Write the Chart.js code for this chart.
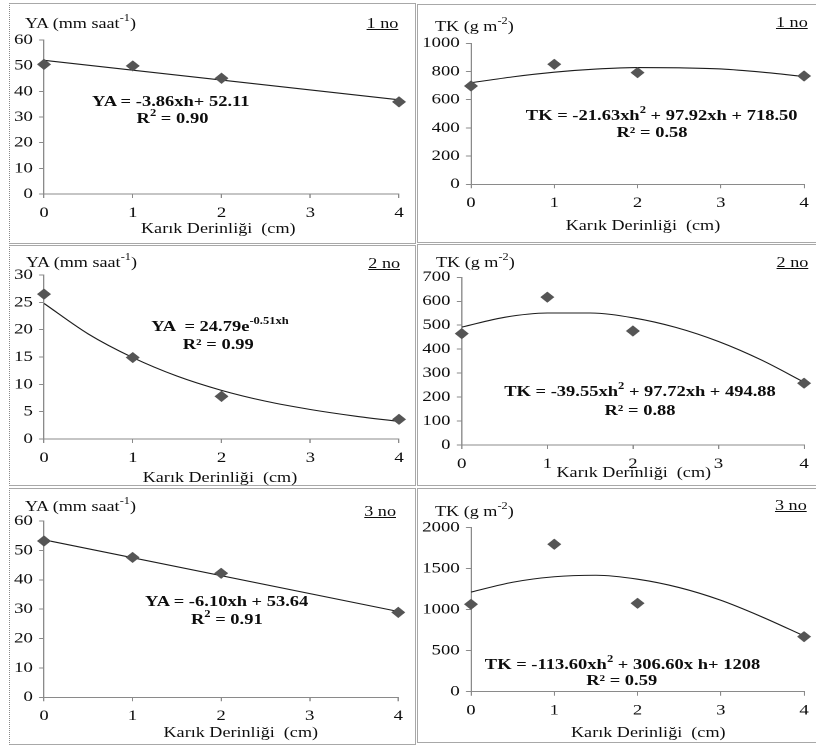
<!DOCTYPE html>
<html><head><meta charset="utf-8">
<script src="https://cdn.jsdelivr.net/npm/chart.js@4.4.1/dist/chart.umd.min.js"></script>
<style>
html,body{margin:0;padding:0;background:#fff;width:816px;height:746px;overflow:hidden}
#frame{position:absolute;left:0;top:0;width:816px;height:746px}
#stage{position:absolute;left:0;top:0;width:652.8px;height:746px;transform:scaleX(1.25);transform-origin:0 0}
.cv{position:absolute}
.t{position:absolute;white-space:nowrap;font-family:"Liberation Serif","Times New Roman",serif;color:#0d0d0d;line-height:1}
.sup{font-size:68%;position:relative;top:-0.7em}
.box{position:absolute;box-sizing:border-box;border:1.5px solid #a8a8a8}
</style></head><body>
<div id="frame"></div>
<div id="stage"></div>
<script>
// ---------- DATA ----------
const depth = [0, 1, 2, 4];                       // Karık derinliği (cm)
const xTicks = [0, 1, 2, 3, 4];
const fitLineX = [0, 4];
const fitCurveX = [0, 0.5, 1, 1.5, 2, 2.5, 3, 3.5, 4];

// 1 no
const ya1 = [50.5, 49.9, 45.1, 35.9];
const ya1Fit = [52.1, 36.7];
const tk1 = [697, 851, 792, 768];
const tk1Fit = [720, 762, 795, 817, 828, 826, 818, 795, 764];
// 2 no
const ya2 = [26.5, 14.9, 7.8, 3.6];
const ya2Fit = [24.8, 19.2, 14.9, 11.5, 8.9, 6.9, 5.4, 4.2, 3.2];
const tk2 = [465, 617, 476, 258];
const tk2Fit = [492, 533, 551, 551, 531, 491, 432, 355, 262];
// 3 no
const ya3 = [53.2, 47.6, 42.2, 28.9];
const ya3Fit = [53.6, 29.2];
const tk3 = [1066, 1798, 1078, 671];
const tk3Fit = [1215, 1335, 1402, 1420, 1372, 1270, 1115, 910, 680];

// y-axis tick ranges
const yaMax1 = 60, yaStep1 = 10;
const tkMax1 = 1000, tkStep1 = 200;
const yaMax2 = 30, yaStep2 = 5;
const tkMax2 = 700, tkStep2 = 100;
const yaMax3 = 60, yaStep3 = 10;
const tkMax3 = 2000, tkStep3 = 500;

// ---------- LAYOUT ----------
const SX = 1.25;
const stage = document.getElementById('stage');
const frame = document.getElementById('frame');

function box(l, t, w, h, dottedLeft){
  const d = document.createElement('div');
  d.className = 'box';
  Object.assign(d.style, {left:l+'px', top:t+'px', width:w+'px', height:h+'px'});
  if (dottedLeft) d.style.borderLeft = '1px dotted #888';
  frame.appendChild(d);
}
box(9, 3, 406.5, 241, true);
box(417, 4, 410, 239, false);
box(9, 245, 406.5, 241, true);
box(417, 244, 410, 242, false);
box(9, 488, 406.5, 257, true);
box(417, 488, 410, 255, false);

const FONT = "'Liberation Serif','Times New Roman',serif";
const AX = '#8a8a8a';
const TICKF = 15;

function makeChart(p){
  const [cl, ct, cw, ch] = p.canvas;
  const [al, at, ar, ab] = p.area;
  const c = document.createElement('canvas');
  c.className = 'cv';
  c.width = cw; c.height = ch;
  Object.assign(c.style, {left:cl+'px', top:ct+'px', width:cw+'px', height:ch+'px'});
  stage.appendChild(c);
  const Wy = al - cl, R = cl + cw - ar, T = at - ct, Hx = 30, B = ct + ch - ab - Hx;
  new Chart(c, {
    type: 'scatter',
    data: { datasets: [
      { type:'line', data: p.fitX.map((x,i)=>({x, y:p.fitY[i]})), borderColor:'#1c1c1c', borderWidth:1.1,
        pointRadius:0, cubicInterpolationMode:'monotone', fill:false, order:2 },
      { data: depth.map((x,i)=>({x, y:p.pts[i]})), pointStyle:'rectRot', pointRadius:5.6,
        backgroundColor:'#555555', borderColor:'#555555', borderWidth:0, clip:false, order:1 }
    ]},
    options: {
      responsive:false, animation:false, devicePixelRatio:2, events:[],
      layout:{ padding:{ left:0, top:T, right:R, bottom:B } },
      plugins:{ legend:{display:false}, tooltip:{enabled:false} },
      scales:{
        x:{ type:'linear', min:0, max:4,
            afterBuildTicks: s => { s.ticks = xTicks.map(v=>({value:v})); },
            ticks:{ padding:6, color:'#0d0d0d', font:{family:FONT, size:TICKF}, maxRotation:0, autoSkip:false,
                    callback: v => String(v) },
            grid:{ display:true, drawOnChartArea:false, tickLength:4, color:AX },
            border:{ color:AX, width:1 },
            afterFit: s => { s.height = Hx; } },
        y:{ type:'linear', min:0, max:p.ymax,
            ticks:{ stepSize:p.step, padding:5, color:'#0d0d0d', font:{family:FONT, size:TICKF},
                    callback: v => String(v) },
            grid:{ display:true, drawOnChartArea:false, tickLength:4, color:AX },
            border:{ color:AX, width:1 },
            afterFit: s => { s.width = Wy; } }
      }
    }
  });
}

// canvas rects: [left(unstretched), top, width, height]; areas: [left, top, right, bottom]
makeChart({ canvas:[9,5,321,237],   area:[35.2,40,319.2,194],    pts:ya1, fitX:fitLineX,  fitY:ya1Fit, ymax:yaMax1, step:yaStep1 });
makeChart({ canvas:[335,5,318,237], area:[376.8,43.3,645.6,184.3], pts:tk1, fitX:fitCurveX, fitY:tk1Fit, ymax:tkMax1, step:tkStep1 });
makeChart({ canvas:[9,247,321,237], area:[35.2,275,319.2,439],   pts:ya2, fitX:fitCurveX, fitY:ya2Fit, ymax:yaMax2, step:yaStep2 });
makeChart({ canvas:[335,247,318,237], area:[369.4,277.3,645.6,445], pts:tk2, fitX:fitCurveX, fitY:tk2Fit, ymax:tkMax2, step:tkStep2 });
makeChart({ canvas:[9,490,321,252], area:[35.2,521,318.6,697.3], pts:ya3, fitX:fitLineX,  fitY:ya3Fit, ymax:yaMax3, step:yaStep3 });
makeChart({ canvas:[335,490,318,252], area:[376.8,527.7,645.6,691.7], pts:tk3, fitX:fitCurveX, fitY:tk3Fit, ymax:tkMax3, step:tkStep3 });

// ---------- TEXT ----------
function addText(html, x, base, anchor, fs, bold, underline){
  const d = document.createElement('div');
  d.className = 't';
  d.innerHTML = html;
  d.style.fontSize = fs + 'px';
  if (bold) d.style.fontWeight = 'bold';
  if (underline) d.style.textDecoration = 'underline';
  d.style.top = (base - 0.8375*fs) + 'px';
  const ux = x / SX;
  if (anchor === 'left') d.style.left = ux + 'px';
  else if (anchor === 'right') { d.style.left = (ux-300)+'px'; d.style.width='300px'; d.style.textAlign='right'; }
  else { d.style.left = (ux-200)+'px'; d.style.width='400px'; d.style.textAlign='center'; }
  stage.appendChild(d);
}
const YA_T = 'YA (mm saat<span class="sup">-1</span>)';
const TK_T = 'TK (g m<span class="sup">-2</span>)';
const XT = 'Karık Derinliği&nbsp; (cm)';
const EQ = 14.8, TF = 14.5;

// panel 1
addText(YA_T, 25, 28.3, 'left', TF);
addText('1 no', 398.3, 28, 'right', TF, false, true);
addText('YA = -3.86xh+ 52.11', 170.8, 106, 'center', EQ, true);
addText('R<span class="sup">2</span> = 0.90', 172.5, 123.3, 'center', EQ, true);
addText(XT, 218.3, 233.3, 'center', TF);
// panel 2
addText(TK_T, 435, 31, 'left', TF);
addText('1 no', 807.7, 27.3, 'right', TF, false, true);
addText('TK = -21.63xh<span class="sup">2</span> + 97.92xh + 718.50', 661.7, 120.7, 'center', EQ, true);
addText('R² = 0.58', 652, 137.3, 'center', EQ, true);
addText(XT, 643, 230, 'center', TF);
// panel 3
addText(YA_T, 26, 266.7, 'left', TF);
addText('2 no', 400, 267.7, 'right', TF, false, true);
addText('YA &nbsp;= 24.79e<span class="sup">-0.51xh</span>', 220, 331.7, 'center', EQ, true);
addText('R² = 0.99', 218.3, 349.3, 'center', EQ, true);
addText(XT, 220, 481.7, 'center', TF);
// panel 4
addText(TK_T, 436, 267.3, 'left', TF);
addText('2 no', 808.3, 266.7, 'right', TF, false, true);
addText('TK = -39.55xh<span class="sup">2</span> + 97.72xh + 494.88', 640, 396.7, 'center', EQ, true);
addText('R² = 0.88', 640, 415, 'center', EQ, true);
addText(XT, 633.8, 477.3, 'center', TF);
// panel 5
addText(YA_T, 25, 511, 'left', TF);
addText('3 no', 396, 515.7, 'right', TF, false, true);
addText('YA = -6.10xh + 53.64', 226.7, 606.7, 'center', EQ, true);
addText('R<span class="sup">2</span> = 0.91', 226.8, 624, 'center', EQ, true);
addText(XT, 240.8, 736.7, 'center', TF);
// panel 6
addText(TK_T, 435, 515.7, 'left', TF);
addText('3 no', 806.7, 510, 'right', TF, false, true);
addText('TK = -113.60xh<span class="sup">2</span> + 306.60x h+ 1208', 622.5, 669, 'center', EQ, true);
addText('R² = 0.59', 621.7, 685.7, 'center', EQ, true);
addText(XT, 648.3, 736.7, 'center', TF);
</script>
</body></html>
